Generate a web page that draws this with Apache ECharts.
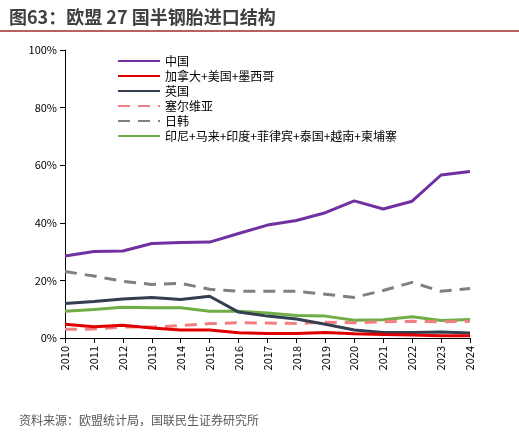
<!DOCTYPE html>
<html><head><meta charset="utf-8">
<script src="https://cdn.jsdelivr.net/npm/echarts@6/dist/echarts.min.js"></script>
<style>html,body{margin:0;padding:0;background:#fff}#graph{width:519px;height:432px}</style>
</head><body><div id="graph"></div>
<script>
var years = ['2010','2011','2012','2013','2014','2015','2016','2017','2018','2019','2020','2021','2022','2023','2024'];
var china = [28.5,30,30.2,32.8,33.2,33.3,36.3,39.2,40.8,43.5,47.6,44.8,47.5,56.6,57.8];
var canUsMex = [4.8,3.9,4.4,3.5,2.8,2.8,1.8,1.6,1.6,1.9,1.5,1.2,1.0,0.8,0.8];
var uk = [12,12.7,13.5,14.1,13.4,14.5,9,7.6,6.6,4.8,2.8,1.9,1.9,2.1,1.7];
var serbia = [3.0,3.1,3.8,3.8,4.3,5.0,5.3,5.2,5.0,5.5,5.3,5.6,5.8,5.6,5.8];
var japanKorea = [23.1,21.5,19.7,18.6,19,16.9,16.2,16.2,16.2,15.2,14.1,16.5,19.3,16.2,17.2];
var seAsia = [9.3,9.9,10.7,10.5,10.5,9.3,9.3,8.7,7.8,7.6,6.2,6.3,7.4,6.1,6.4];

var names = ['中国','加拿大+美国+墨西哥','英国','塞尔维亚','日韩','印尼+马来+印度+菲律宾+泰国+越南+柬埔寨'];
var colors = ['#7030a0','#e00000','#333f50','#f08080','#808080','#70ad47'];
var datas = [china, canUsMex, uk, serbia, japanKorea, seAsia];
var dashed = [false,false,false,true,true,false];

var series = [];
for (var i = 0; i < names.length; i++) {
    series.push({
        name: names[i], type: 'line', data: datas[i], symbol: 'none',
        lineStyle: {color: colors[i], width: 3, type: dashed[i] ? [12, 8] : 'solid'},
        itemStyle: {color: colors[i]}
    });
}
// 叠放顺序：把前面的线画在上面
series.reverse();

var chart = echarts.init(document.getElementById('graph'));
chart.setOption({
    animation: false,
    textStyle: {fontFamily: 'Noto Sans CJK SC'},
    title: [{
        text: '图63：欧盟 27 国半钢胎进口结构', left: 4, top: 3,
        textStyle: {fontSize: 18, fontWeight: 'bold', color: '#404040'}
    }, {
        text: '资料来源：欧盟统计局，国联民生证券研究所', left: 14, bottom: 1,
        textStyle: {fontSize: 12, fontWeight: 'normal', color: '#595959'}
    }],
    graphic: [{type: 'line', shape: {x1: 0, y1: 31, x2: 519, y2: 31}, style: {stroke: '#a52a2a', lineWidth: 1.5}}],
    legend: {
        orient: 'vertical', left: 112, top: 50, itemGap: 3, itemWidth: 42, itemHeight: 12,
        itemStyle: {opacity: 0},
        data: names, textStyle: {fontSize: 12, color: '#000'}
    },
    grid: {left: 65, right: 49, top: 50, bottom: 94, containLabel: false},
    xAxis: {
        type: 'category', data: years, boundaryGap: false,
        axisLine: {lineStyle: {color: '#000'}},
        axisTick: {show: true, lineStyle: {color: '#000'}},
        axisLabel: {rotate: 90, color: '#000', fontSize: 11}
    },
    yAxis: {
        type: 'value', min: 0, max: 100, interval: 20,
        splitLine: {show: false},
        axisLine: {show: true, lineStyle: {color: '#000'}},
        axisTick: {show: true},
        axisLabel: {formatter: '{value}%', color: '#000', fontSize: 11}
    },
    series: series
});
</script></body></html>
